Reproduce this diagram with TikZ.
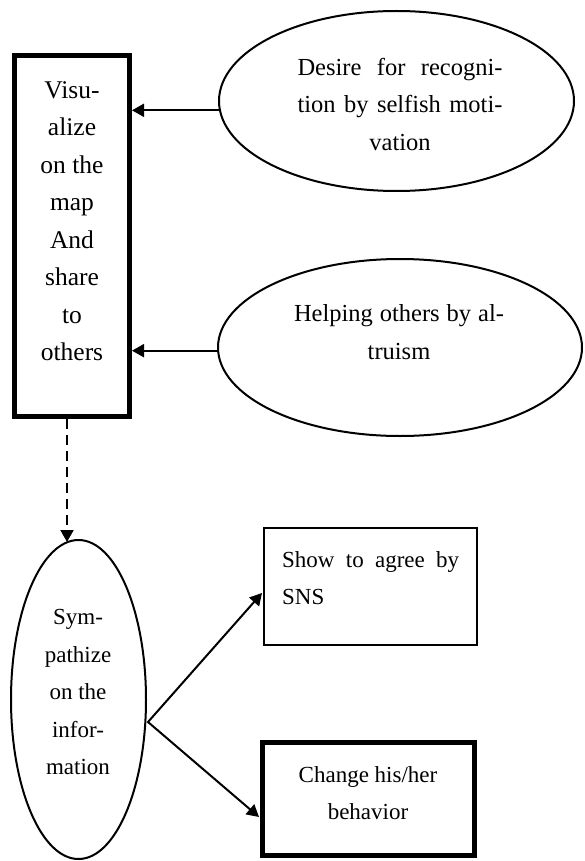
\documentclass[tikz,border=0pt]{standalone}
\usepackage{fontspec}
\setmainfont{Liberation Serif}
\usetikzlibrary{shapes.geometric,arrows.meta,calc}
\begin{document}
\begin{tikzpicture}[x=1pt,y=-1pt,
  txt/.style={font=\fontsize{23}{37.5}\selectfont, align=center, inner sep=0pt},
  bigtxt/.style={txt, font=\fontsize{25.5}{37.5}\selectfont},
  midtxt/.style={txt, font=\fontsize{24.5}{37.5}\selectfont},
  thickbox/.style={draw, line width=5pt, rectangle, inner sep=0pt},
  thinbox/.style={draw, line width=2pt, rectangle, inner sep=0pt},
  oval/.style={draw, line width=2pt, ellipse, inner sep=0pt},
  arr/.style={line width=2pt, -{Triangle[length=12pt,width=13pt]}},
  twoarr/.style={line width=2pt, {Triangle[length=12pt,width=13pt]}-{Triangle[length=12pt,width=13pt]}},
  dasharr/.style={arr, dash pattern=on 10pt off 6pt}]
\useasboundingbox (0,0) rectangle (584,861);

\node[thickbox, minimum width=115pt, minimum height=361pt] (vis) at (72,236) {};
\node[bigtxt] (vistxt) at (72,221) {Visu-\\alize\\on the\\map\\And\\share\\to\\others};

\node[oval, minimum width=355pt, minimum height=180pt] (des) at (396.5,101) {};
\node[midtxt] (destxt) at (400,104) {\makebox[205pt][s]{Desire for recogni-}\\\makebox[205pt][s]{tion by selfish moti-}\\vation};

\node[oval, minimum width=364pt, minimum height=177pt] (hel) at (400,347.5) {};
\node[midtxt] (heltxt) at (399,332) {\makebox[210pt][s]{Helping others by al-}\\truism};

\node[oval, minimum width=135pt, minimum height=319pt] (sym) at (78.5,699.5) {};
\node[txt] (symtxt) at (78,692) {Sym-\\pathize\\on the\\infor-\\mation};

\node[thinbox, minimum width=213pt, minimum height=117pt] (sns) at (370.5,586.5) {};
\node[txt, align=left, anchor=west] (snstxt) at (282,578) {\makebox[177pt][s]{Show to agree by}\\SNS};

\node[thickbox, minimum width=212pt, minimum height=113pt] (chg) at (368.5,799) {};
\node[txt] (chgtxt) at (368,793) {Change his/her\\behavior};

\coordinate (fork) at (148,722);

\draw[arr] (des.183.5) -- (des.183.5 -| vis.east);
\draw[arr] (hel.181.7) -- (hel.181.7 -| vis.east);
\draw[dasharr] ($(vis.south)+(-5,0)$) -- ($(vis.south |- sym.north)+(-5,3)$);
\draw[twoarr] ($(sns.west)+(-1,6.5)$) -- (fork) -- ($(chg.west)+(-1,18)$);
\end{tikzpicture}
\end{document}
